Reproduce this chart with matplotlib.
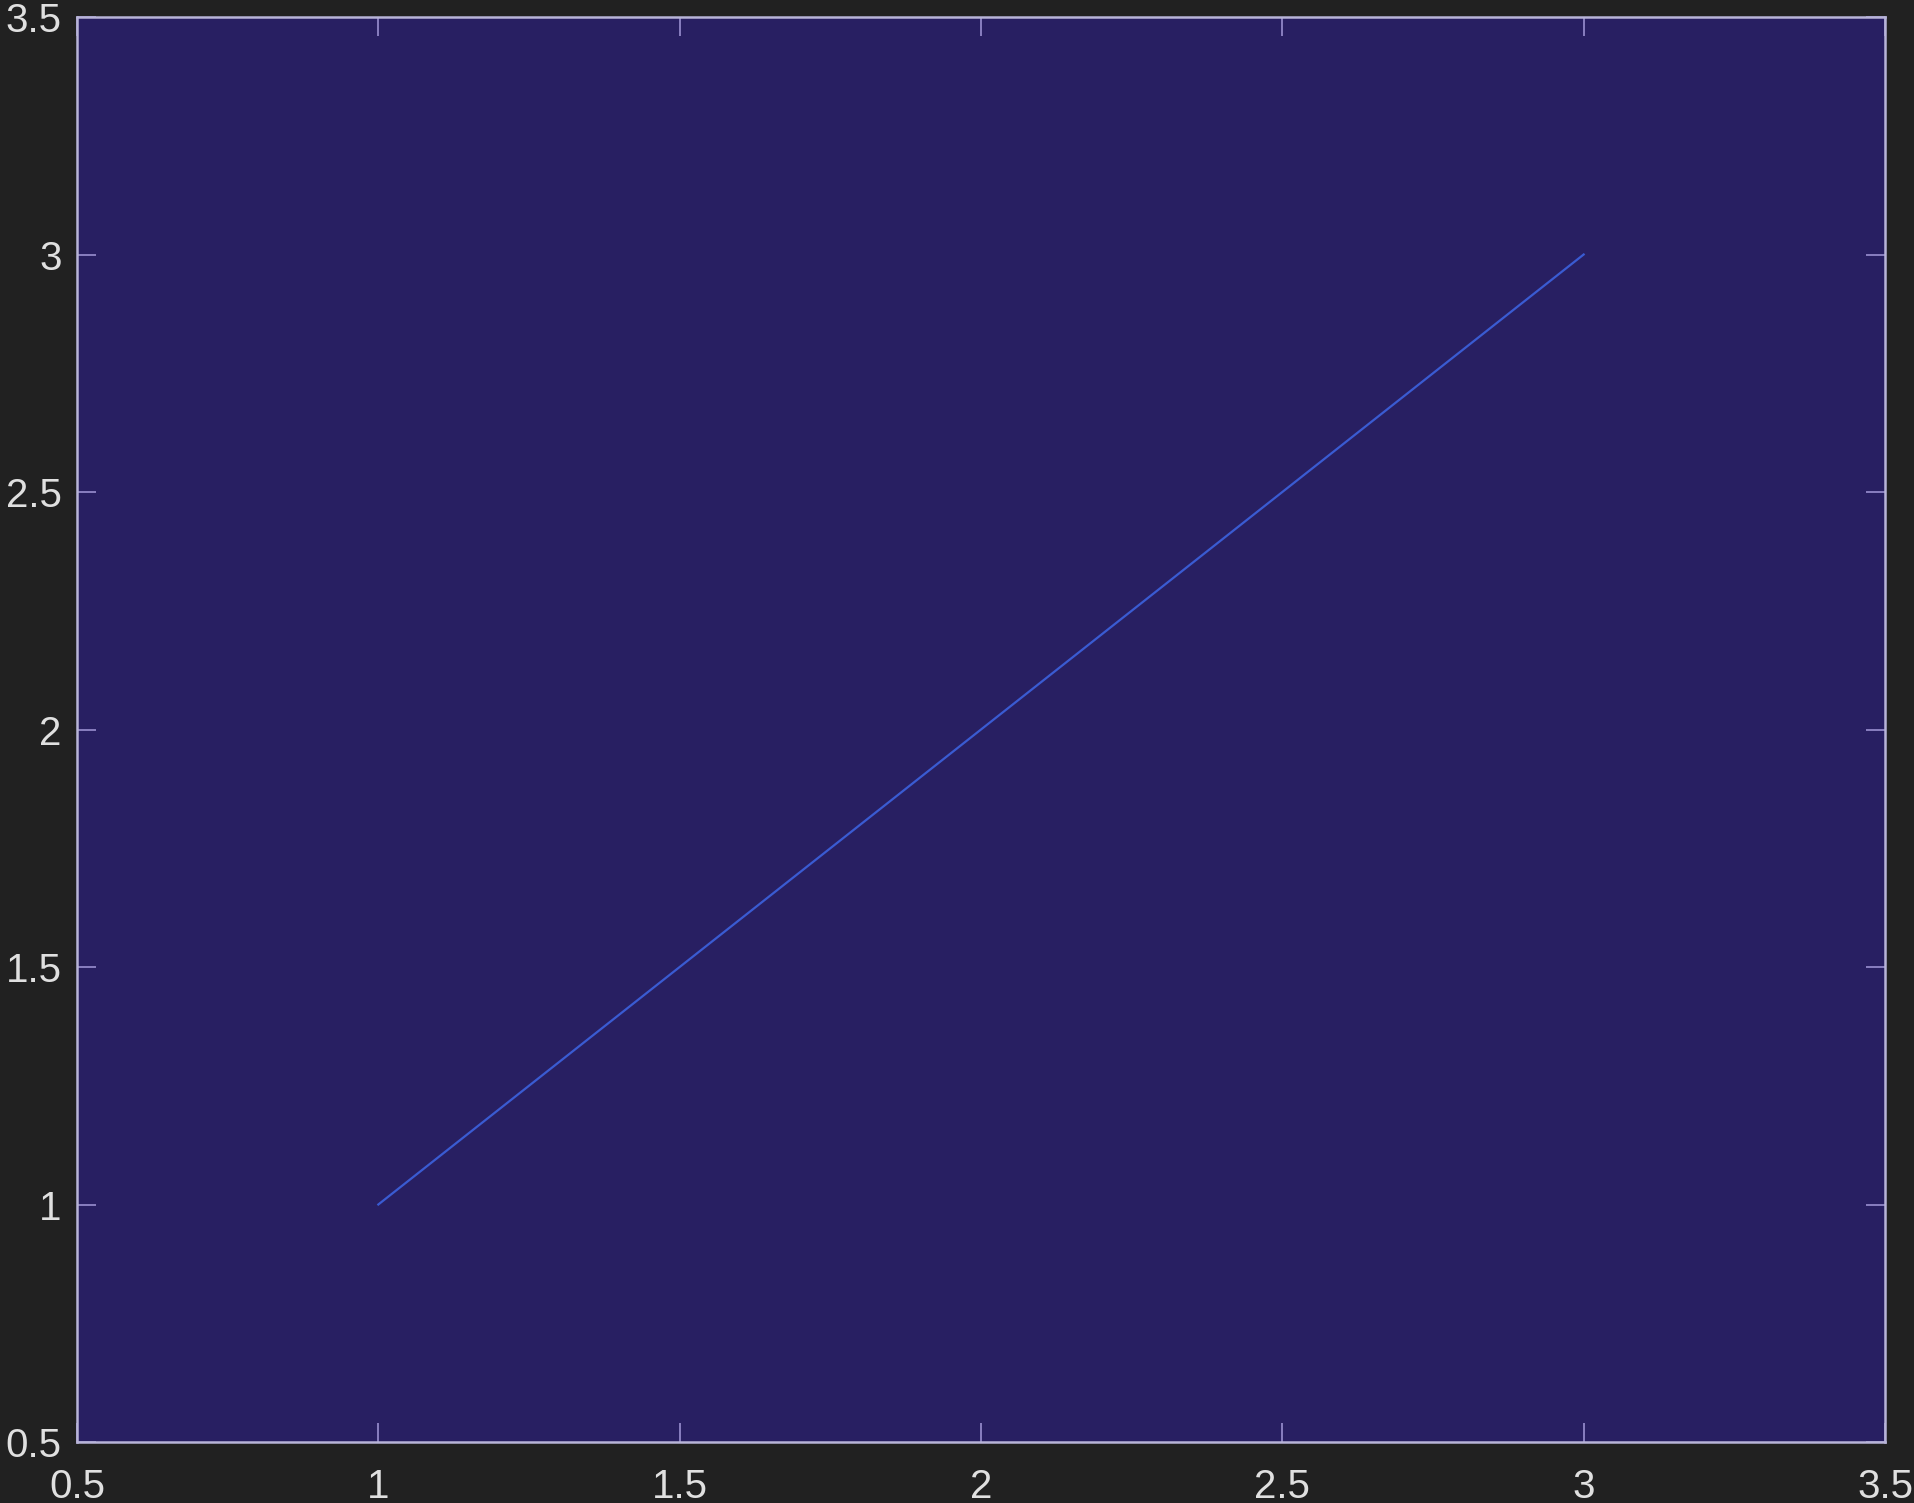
import matplotlib
matplotlib.use("Agg")
import matplotlib.pyplot as plt

x_vals = [1, 2, 3]
y_vals = [1, 2, 3]
x_ticks = [0.5, 1, 1.5, 2, 2.5, 3, 3.5]
y_ticks = [0.5, 1, 1.5, 2, 2.5, 3, 3.5]
tick_labels = ["0.5", "1", "1.5", "2", "2.5", "3", "3.5"]

plt.rcParams['font.family'] = ['Liberation Sans', 'DejaVu Sans']

fig = plt.figure(figsize=(19.15, 15.03), dpi=100, facecolor='#212121')
ax = fig.add_axes([77/1915, 1 - 1442/1503, (1885-77)/1915, (1442-17)/1503])
ax.set_facecolor('#281f62')

ax.plot(x_vals, y_vals, color='#3a5bd2', linewidth=1.6)

ax.set_xlim(0.5, 3.5)
ax.set_ylim(0.5, 3.5)
ax.set_xticks(x_ticks)
ax.set_xticklabels(tick_labels)
ax.set_yticks(y_ticks)
ax.set_yticklabels(tick_labels)

ax.tick_params(direction='in', length=13.5, width=1.2, colors='#9a8fd0',
               labelcolor='#e0e0e0', labelsize=29, top=True, right=True)
ax.tick_params(axis='x', pad=19)
ax.tick_params(axis='y', pad=11)
for s in ax.spines.values():
    s.set_color('#b8b4d8')
    s.set_linewidth(1.8)

fig.savefig('out.png', dpi=100, facecolor=fig.get_facecolor())
